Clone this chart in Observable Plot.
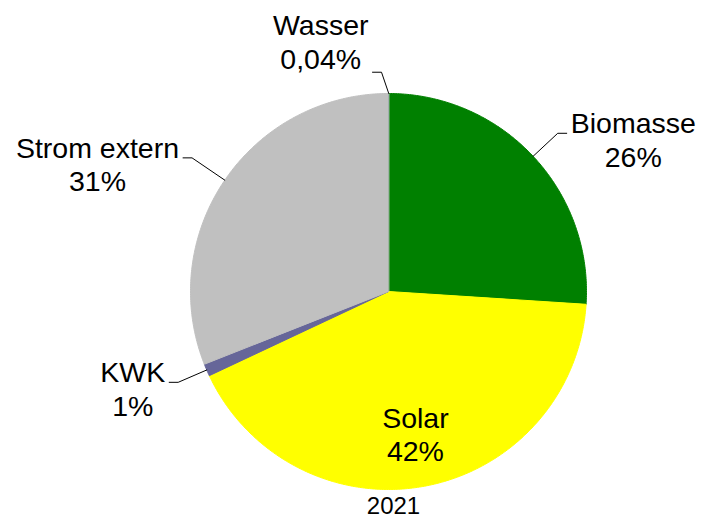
<!DOCTYPE html>
<html><head><meta charset="utf-8">
<script src="https://cdn.jsdelivr.net/npm/d3@7"></script>
<script src="https://cdn.jsdelivr.net/npm/@observablehq/plot@0.6"></script>
<style>body{margin:0;background:#fff}</style>
</head><body><div id="chart"></div>
<script>
// ---- data ----
const categories = ["Wasser", "Biomasse", "Solar", "KWK", "Strom extern"];
const values = [0.04, 26, 42, 1, 31];
const valueLabels = ["0,04%", "26%", "42%", "1%", "31%"];
const yearLabel = ["2021"];
const colors = ["#4a5ae0", "#008000", "#ffff00", "#666699", "#c0c0c0"];

// ---- layout (not data) ----
const W = 701, H = 518, CX = 388, CY = 291, R = 198;
const FONT = "'Liberation Sans', Arial, sans-serif";
const FS = 28.5, LH = 33.3, HLEN = 9, GAP = 4;
const labelLayout = {
  "Wasser": {k: 1.108, shift: -1.9, above: true},
  "Biomasse": {k: 1.17, shift: 0},
  "Solar": {k: 0.73, inside: true},
  "KWK": {k: 1.157, shift: 0},
  "Strom extern": {k: 1.2, shift: 0}
};

const total = d3.sum(values);
const toRad = Math.PI / 180;
let cum = 0;
const slices = categories.map((name, i) => {
  const a0 = cum / total * 2 * Math.PI;
  cum += values[i];
  const a1 = cum / total * 2 * Math.PI;
  return {name, a0, a1, mid: (a0 + a1) / 2, pct: valueLabels[i]};
});

// slice polygons in unit coordinates (y up)
const slicePts = [];
for (const s of slices) {
  slicePts.push({name: s.name, x: 0, y: 0});
  const steps = Math.max(2, Math.ceil((s.a1 - s.a0) / (0.5 * toRad)));
  for (let j = 0; j <= steps; j++) {
    const a = s.a0 + (s.a1 - s.a0) * j / steps;
    slicePts.push({name: s.name, x: Math.sin(a), y: Math.cos(a)});
  }
}

const ctx = document.createElement("canvas").getContext("2d");
ctx.font = `${FS}px 'Liberation Sans'`;

const leaderPts = [];
const textMarks = [];
for (const s of slices) {
  const L = labelLayout[s.name];
  if (L.inside) {
    textMarks.push(Plot.text([s], {
      x: d => L.k * Math.sin(d.mid), y: d => L.k * Math.cos(d.mid),
      text: d => d.name + "\n" + d.pct,
      textAnchor: "middle", lineAnchor: "middle", lineHeight: LH / FS,
      fontSize: FS, fill: "#000"
    }));
    continue;
  }
  const ea = s.mid, ba = s.mid + L.shift * toRad;
  const ex = Math.sin(ea), ey = Math.cos(ea);
  const bx = L.k * Math.sin(ba), by = L.k * Math.cos(ba);
  const side = Math.sin(s.mid) >= 0 && !L.above ? 1 : -1;
  const hx = bx + side * HLEN / R;
  leaderPts.push({name: s.name, x: ex, y: ey}, {name: s.name, x: bx, y: by}, {name: s.name, x: hx, y: by});
  const w = Math.max(ctx.measureText(s.name).width, ctx.measureText(s.pct).width);
  textMarks.push(Plot.text([s], {
    x: () => hx, y: () => by,
    text: d => d.name + "\n" + d.pct,
    textAnchor: "middle", lineAnchor: "bottom", lineHeight: LH / FS,
    fontSize: FS, fill: "#000",
    dx: side * (GAP + w / 2),
    dy: L.above ? -3.7 : LH
  }));
}

const chart = Plot.plot({
  width: W, height: H, margin: 0,
  x: {domain: [-CX / R, (W - CX) / R], axis: null},
  y: {domain: [(CY - H) / R, CY / R], axis: null},
  color: {domain: categories, range: colors},
  style: {background: "white", fontFamily: FONT},
  marks: [
    Plot.line(slicePts, {x: "x", y: "y", z: "name", fill: "name", stroke: "name", strokeWidth: 1, curve: "linear-closed"}),
    Plot.line(leaderPts, {x: "x", y: "y", z: "name", stroke: "#000", strokeWidth: 1}),
    ...textMarks,
    Plot.text(yearLabel, {x: () => 0, frameAnchor: "bottom", dy: -5, dx: 5, text: d => d, fontSize: 24, fill: "#000"})
  ]
});
document.getElementById("chart").appendChild(chart);
</script>
</body></html>
